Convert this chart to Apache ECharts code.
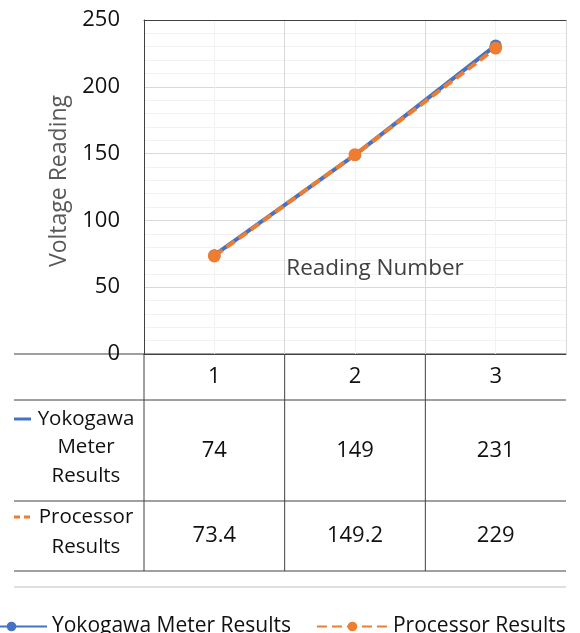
<!DOCTYPE html>
<html>
<head>
<meta charset="utf-8">
<script src="https://cdn.jsdelivr.net/npm/echarts@6/dist/echarts.min.js"></script>
<style>html,body{margin:0;padding:0;background:#fff;}#c{width:580px;height:633px;}</style>
</head>
<body>
<div id="c"></div>
<script>
// ---- data ----
var categories = ['1', '2', '3'];
var seriesNames = ['Yokogawa Meter Results', 'Processor Results'];
var tableRowLabels = ['Yokogawa\nMeter\nResults', 'Processor\nResults'];
var yokogawa = [74, 149, 231];
var processor = [73.4, 149.2, 229];
var yTicks = { min: 0, max: 250, interval: 50 };

// ---- layout constants ----
var FONT = 'Open Sans';
var TXT = '#111111';
var G = { left: 144, top: 20, width: 422, height: 334 };
var gBottom = G.top + G.height;      // 354
var gRight = G.left + G.width;       // 566
var rowLines = [400, 501, 571];
var tableLeft = 14;
var BLUE = '#4472C4', ORANGE = '#ED7D31', DARK = '#404040';

var chart = echarts.init(document.getElementById('c'), null, { renderer: 'canvas' });

function rowAxis(values, offset) {
  return {
    type: 'category', gridIndex: 0, position: 'bottom', offset: offset,
    data: values.map(String),
    axisLine: { show: false }, axisTick: { show: false }, splitLine: { show: false },
    axisLabel: { margin: 0, verticalAlign: 'middle', fontFamily: FONT, fontSize: 22, color: TXT }
  };
}

var graphics = [];
function hline(y, x1, x2, color) {
  graphics.push({ type: 'line', silent: true, shape: { x1: x1, y1: y, x2: x2, y2: y },
    style: { stroke: color || DARK, lineWidth: 1 } });
}
function vline(x, y1, y2) {
  graphics.push({ type: 'line', silent: true, shape: { x1: x, y1: y1, x2: x, y2: y2 },
    style: { stroke: DARK, lineWidth: 1 } });
}
hline(gBottom, tableLeft, gRight);
rowLines.forEach(function (y) { hline(y, tableLeft, gRight); });
var colW = G.width / categories.length;
for (var i = 0; i < categories.length; i++) vline(G.left + colW * i, gBottom, rowLines[2]);
hline(587, tableLeft, gRight, '#bfbfbf');

// row label icons
graphics.push({ type: 'line', silent: true, shape: { x1: 14, y1: 419, x2: 31, y2: 419 },
  style: { stroke: BLUE, lineWidth: 3 } });
graphics.push({ type: 'line', silent: true, shape: { x1: 14, y1: 517, x2: 32, y2: 517 },
  style: { stroke: ORANGE, lineWidth: 3, lineDash: [6, 4] } });
// row label texts
graphics.push({ type: 'text', silent: true, x: 86, y: 447.5,
  style: { text: tableRowLabels[0], fontFamily: FONT, fontSize: 20.5, fill: TXT,
    align: 'center', verticalAlign: 'middle', lineHeight: 28.5 } });
graphics.push({ type: 'text', silent: true, x: 86, y: 532.5,
  style: { text: tableRowLabels[1], fontFamily: FONT, fontSize: 20.5, fill: TXT,
    align: 'center', verticalAlign: 'middle', lineHeight: 30 } });

var option = {
  backgroundColor: '#ffffff',
  animation: false,
  grid: { left: G.left, top: G.top, width: G.width, height: G.height, containLabel: false },
  legend: {
    data: seriesNames, left: -30, top: 611,
    itemWidth: 71, itemHeight: 12, itemGap: 25,
    textStyle: { fontFamily: FONT, fontSize: 21, color: TXT }
  },
  xAxis: [
    {
      type: 'category', data: categories, boundaryGap: true, position: 'bottom',
      axisLine: { show: true, lineStyle: { color: DARK, width: 1 } },
      axisTick: { show: false }, splitLine: { show: false },
      axisLabel: { margin: 23, verticalAlign: 'middle', fontFamily: FONT, fontSize: 22, color: TXT },
      name: 'Reading Number', nameLocation: 'middle', nameGap: -85,
      nameTextStyle: { fontFamily: FONT, fontSize: 22.5, color: '#404040', verticalAlign: 'middle', padding: [0, 0, 0, 40] }
    },
    {
      type: 'value', min: 0, max: 3, interval: 0.5, position: 'top',
      axisLine: { show: true, lineStyle: { color: DARK, width: 1 } },
      axisTick: { show: false }, axisLabel: { show: false },
      splitLine: { show: true, lineStyle: { color: ['#d9d9d9', '#f2f2f2'], width: 1 } }
    },
    rowAxis(yokogawa, (rowLines[0] + rowLines[1]) / 2 - gBottom),
    rowAxis(processor, (rowLines[1] + rowLines[2]) / 2 - gBottom)
  ],
  yAxis: {
    type: 'value', min: yTicks.min, max: yTicks.max, interval: yTicks.interval,
    axisLine: { show: true, lineStyle: { color: DARK, width: 1 } },
    axisTick: { show: false },
    axisLabel: { margin: 24, fontFamily: FONT, fontSize: 22, color: TXT },
    splitLine: { show: true, lineStyle: { color: '#d9d9d9', width: 1 } },
    minorTick: { show: false, splitNumber: 5 },
    minorSplitLine: { show: true, lineStyle: { color: '#f2f2f2', width: 1 } },
    name: 'Voltage Reading', nameLocation: 'middle', nameGap: 79, nameRotate: 90,
    nameTextStyle: { fontFamily: FONT, fontSize: 23, color: '#595959', verticalAlign: 'middle', padding: [0, 0, 0, 12] }
  },
  series: [
    {
      name: seriesNames[0], type: 'line', xAxisIndex: 0, data: yokogawa,
      symbol: 'circle', symbolSize: 12,
      lineStyle: { color: BLUE, width: 4 }, itemStyle: { color: BLUE }, z: 2
    },
    {
      name: seriesNames[1], type: 'line', xAxisIndex: 0, data: processor,
      symbol: 'circle', symbolSize: 13,
      lineStyle: { color: ORANGE, width: 4, type: [10, 5], cap: 'butt' }, itemStyle: { color: ORANGE }, z: 3
    }
  ],
  graphic: graphics
};
chart.setOption(option);
</script>
</body>
</html>
